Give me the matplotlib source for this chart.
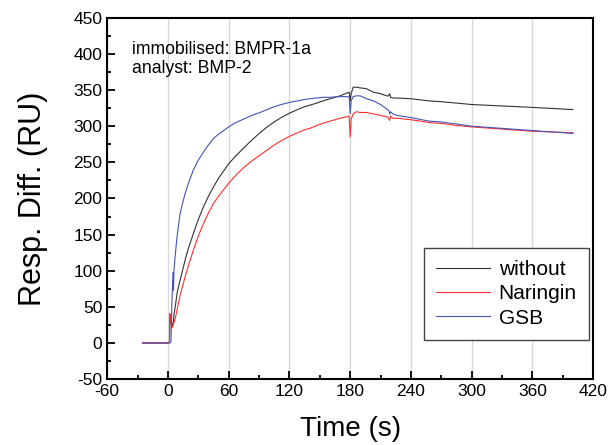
import numpy as np
import matplotlib
matplotlib.use("Agg")
import matplotlib.pyplot as plt
from matplotlib.ticker import MultipleLocator

plt.rcParams['font.family'] = ['Liberation Sans', 'DejaVu Sans']
plt.rcParams['axes.unicode_minus'] = False

# time (s) and response (RU)
time = [-25, 0, 1.5, 2, 3, 4, 5, 5.5, 6,
        7, 8, 9, 10, 12, 14, 17, 20, 25, 30,
        35, 40, 45, 50, 60, 67, 75, 83, 91, 98,
        105, 112, 120, 128, 135, 140, 147, 153, 160, 170,
        177, 179, 180, 181, 183, 186, 190, 196, 203, 210,
        216, 218, 219, 220, 222, 226, 240, 258, 269, 285,
        300, 330, 360, 380, 400]

without = [0, 0, 1, 40, 30, 22, 28, 32, 40,
           48, 58, 69, 75, 87, 98, 115, 130, 151, 171,
           188, 203, 216, 228, 248, 259, 270, 281, 291, 299,
           306, 312, 318, 323, 327, 329, 332, 335, 338, 342,
           346, 347, 335, 345, 354, 354, 353, 352, 347, 345,
           342, 342, 345, 340, 339, 339, 338, 335, 334, 332,
           330, 328, 326, 324.5, 323]

naringin = [0, 0, 1, 41, 30, 21, 24, 26, 28,
            33, 39, 46, 52, 66, 76, 92, 106, 128, 148,
            165, 180, 193, 203, 221, 232, 243, 252, 260, 267,
            274, 280, 286, 291, 295, 297, 301, 304, 307, 311,
            313, 314, 285, 310, 317, 320, 319, 319, 317, 315,
            313, 311, 308, 314, 311, 311, 309, 305, 304, 301,
            299, 296, 293, 292, 291]

gsb = [0, 0, 0, 0, 2, 60, 98, 73, 100,
       118, 133, 147, 158, 179, 191, 207, 220, 239, 253,
       264, 274, 283, 289, 299, 305, 310, 315, 319, 323,
       327, 330, 333, 335, 337, 338, 339, 340, 340, 341,
       341, 340, 317, 335, 341, 342, 342, 338, 335, 330,
       324, 322, 317, 320, 317, 315, 312, 307, 306, 303,
       300, 297, 294, 292, 290]

fig = plt.figure(figsize=(6.09, 4.45), dpi=100)
ax = fig.add_axes([0.176, 0.148, 0.798, 0.812])

ax.plot(time, without, color='#333333', lw=0.8, label='without')
ax.plot(time, naringin, color='#ff3030', lw=0.8, label='Naringin')
ax.plot(time, gsb, color='#4455bb', lw=0.8, label='GSB')

ax.set_xlim(-60, 420)
ax.set_ylim(-50, 450)
ax.xaxis.set_major_locator(MultipleLocator(60))
ax.xaxis.set_minor_locator(MultipleLocator(30))
ax.yaxis.set_major_locator(MultipleLocator(50))
ax.yaxis.set_minor_locator(MultipleLocator(25))
ax.tick_params(which='both', direction='in', labelsize=12.5, width=1.3)
ax.tick_params(which='major', length=6)
ax.tick_params(which='minor', length=3)
ax.grid(axis='x', which='major', color='#d8d8d8', lw=1)
for s in ax.spines.values():
    s.set_linewidth(1.5)

ax.set_xlabel('Time (s)', fontsize=20, labelpad=12)
ax.set_ylabel('Resp. Diff. (RU)', fontsize=22, labelpad=18)

ax.text(0.051, 0.935, 'immobilised: BMPR-1a\nanalyst: BMP-2',
        transform=ax.transAxes, fontsize=12.7, va='top', ha='left',
        linespacing=1.1)

leg = ax.legend(loc='lower right', bbox_to_anchor=(0.992, 0.108),
                borderaxespad=0, fontsize=15, fancybox=False,
                edgecolor='#444444', framealpha=1, handlelength=2.6,
                handletextpad=0.4, labelspacing=0.25, borderpad=0.6)
leg.get_frame().set_linewidth(1.0)

fig.savefig('out.png', dpi=100)
